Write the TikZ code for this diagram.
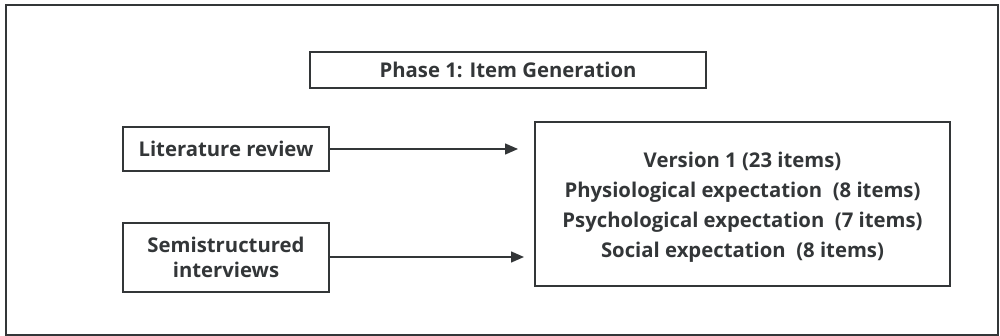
\documentclass[tikz,border=0pt]{standalone}
\usepackage{fontspec}
\setmainfont{Open Sans}
\usetikzlibrary{arrows.meta}
\definecolor{ink}{HTML}{333638}
\begin{document}
\begin{tikzpicture}[x=1pt,y=-1pt,
  box/.style={draw=ink,line width=1.6pt,inner sep=0pt},
  txt/.style={text=ink,font=\bfseries\fontsize{20.3}{25}\selectfont,align=center},
  conn/.style={draw=ink,line width=1.4pt,-{Triangle[length=13pt,width=11pt]}}]
\useasboundingbox (0,0) rectangle (1000,336);
\draw[ink,line width=1.8pt] (6,5) rectangle (998,335);
\node[box,minimum width=396pt,minimum height=36pt] (phase) at (508,70) {};
\node[txt] at (phase) {Phase 1: Item Generation};
\node[box,minimum width=206pt,minimum height=44pt] (lit) at (226,149) {};
\node[txt] at (lit) {Literature review};
\node[box,minimum width=206pt,minimum height=69pt] (semi) at (226,257.5) {};
\node[txt] at (semi) {Semistructured\\interviews};
\node[box,minimum width=415pt,minimum height=164pt] (ver) at (742.5,204) {};
\node[txt,font=\bfseries\fontsize{20.3}{30}\selectfont] at ([yshift=-3.5pt]ver.center) {Version 1 (23 items)\\Physiological expectation\ \ (8 items)\\Psychological expectation\ \ (7 items)\\Social expectation\ \ (8 items)};
\coordinate (t1) at (518,149);
\coordinate (t2) at (524,257);
\draw[conn] (lit.east) -- (t1);
\draw[conn] (semi.east |- t2) -- (t2);
\end{tikzpicture}
\end{document}
